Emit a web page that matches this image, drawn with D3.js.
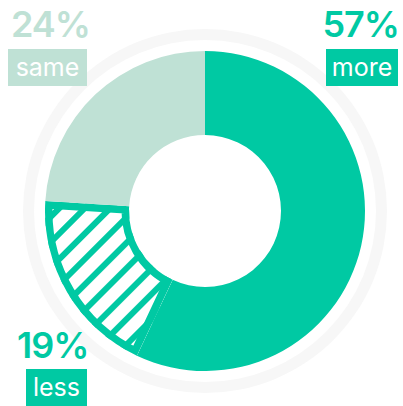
<!DOCTYPE html>
<html>
<head>
<meta charset="utf-8">
<script src="https://cdn.jsdelivr.net/npm/d3@7"></script>
<style>
  html, body { margin: 0; padding: 0; background: #ffffff; }
  svg { display: block; }
</style>
</head>
<body>
<svg id="chart" width="403" height="406"></svg>
<script>
const categories = ["more", "less", "same"];
const values = [57, 19, 24];
const percentLabels = ["57%", "19%", "24%"];

const W = 403, H = 406;
const cx = 205, cy = 211, outerR = 160, innerR = 76;
const green = "#00c9a3", light = "#bfe1d5";
const colors = { more: green, less: green, same: light };

const svg = d3.select("#chart");
const defs = svg.append("defs");

const pat = defs.append("pattern")
  .attr("id", "hatch")
  .attr("patternUnits", "userSpaceOnUse")
  .attr("width", 18).attr("height", 18)
  .attr("patternTransform", "rotate(45)");
pat.append("rect").attr("width", 18).attr("height", 18).attr("fill", "#ffffff");
pat.append("rect").attr("width", 6).attr("height", 18).attr("fill", green);

const g = svg.append("g").attr("transform", `translate(${cx},${cy})`);

// faint background ring
g.append("path")
  .attr("d", d3.arc().innerRadius(171).outerRadius(182).startAngle(0).endAngle(2 * Math.PI)())
  .attr("fill", "#f7f7f7");

const pie = d3.pie().sort(null).value(d => d.value);
const data = pie(categories.map((c, i) => ({ cat: c, value: values[i], label: percentLabels[i] })));
const arc = d3.arc().innerRadius(innerR).outerRadius(outerR);

data.forEach((d, i) => {
  const p = arc(d);
  if (d.data.cat === "less") {
    defs.append("clipPath").attr("id", "clip-less").append("path").attr("d", p);
    g.append("path").attr("d", p).attr("fill", "url(#hatch)");
    g.append("path").attr("d", p)
      .attr("fill", "none")
      .attr("stroke", green)
      .attr("stroke-width", 15)
      .attr("stroke-linejoin", "miter")
      .attr("clip-path", "url(#clip-less)");
  } else {
    g.append("path").attr("d", p).attr("fill", colors[d.data.cat]);
  }
});

// labels
const labelLayout = {
  same: { px: 11, py: 37, anchor: "start", box: [8, 49, 79, 37], tx: 47.5, ty: 76 },
  more: { px: 399, py: 37, anchor: "end", box: [326, 49, 72, 37], tx: 362, ty: 76 },
  less: { px: 17, py: 358, anchor: "start", box: [26, 369, 61, 37], tx: 56.5, ty: 396 }
};

data.forEach(d => {
  const L = labelLayout[d.data.cat];
  const col = colors[d.data.cat];
  svg.append("text")
    .attr("x", L.px).attr("y", L.py)
    .attr("text-anchor", L.anchor)
    .attr("font-family", "Inter, 'DejaVu Sans', sans-serif")
    .attr("font-weight", 600)
    .attr("font-size", 36)
    .attr("letter-spacing", -1)
    .attr("fill", col)
    .text(d.data.label);
  svg.append("rect")
    .attr("x", L.box[0]).attr("y", L.box[1])
    .attr("width", L.box[2]).attr("height", L.box[3])
    .attr("fill", col);
  svg.append("text")
    .attr("x", L.tx).attr("y", L.ty)
    .attr("text-anchor", "middle")
    .attr("font-family", "Inter, 'DejaVu Sans', sans-serif")
    .attr("font-weight", 400)
    .attr("font-size", 25)
    .attr("fill", "#ffffff")
    .text(d.data.cat);
});
</script>
</body>
</html>
